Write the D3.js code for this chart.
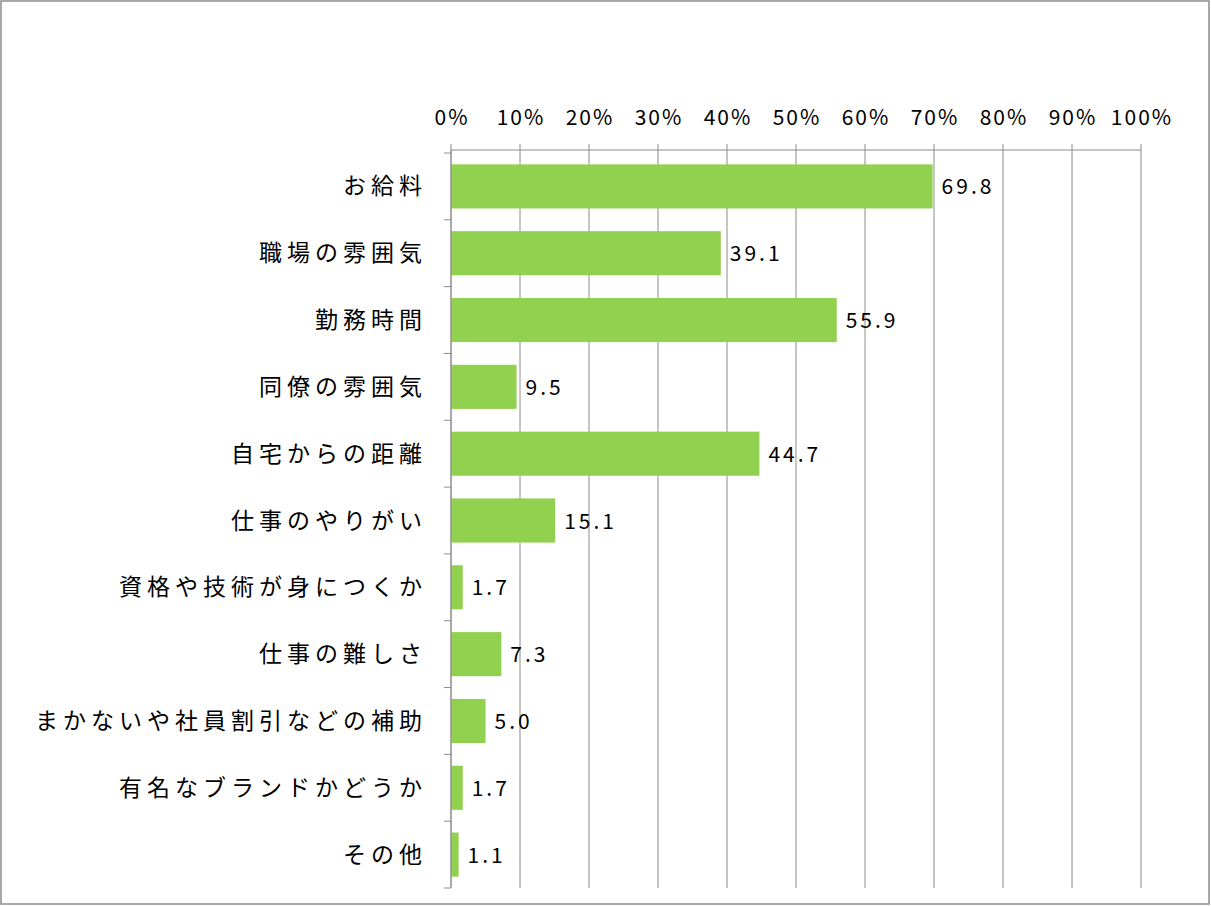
<!DOCTYPE html>
<html><head><meta charset="utf-8">
<script src="https://cdn.jsdelivr.net/npm/d3@7"></script>
<style>body{margin:0;background:#fff}text{font-family:"Noto Sans CJK JP","Noto Sans",sans-serif}</style>
</head><body><svg id="c" width="1211" height="906"></svg>
<script>
const categories=["お給料","職場の雰囲気","勤務時間","同僚の雰囲気","自宅からの距離","仕事のやりがい","資格や技術が身につくか","仕事の難しさ","まかないや社員割引などの補助","有名なブランドかどうか","その他"];
const values=[69.8,39.1,55.9,9.5,44.7,15.1,1.7,7.3,5.0,1.7,1.1];
const ticks=[0,10,20,30,40,50,60,70,80,90,100];
const svg=d3.select("#c");
svg.append("rect").attr("x",1).attr("y",1).attr("width",1208).attr("height",903).attr("fill","#fff").attr("stroke","#8c8c8c").attr("stroke-width",1.5);
const x=d3.scaleLinear().domain([0,100]).range([451,1141]);
const y=d3.scaleBand().domain(categories).range([153,888]).paddingInner(0.34).paddingOuter(0.17);
const yb=d3.scaleBand().domain(categories).range([153,888]);
const g=svg.append("g");
g.selectAll(".grid").data(ticks).join("line").attr("x1",d=>x(d)).attr("x2",d=>x(d)).attr("y1",150).attr("y2",888).attr("stroke","#8c8c8c").attr("stroke-width",1);
g.selectAll(".tl").data(ticks).join("text").attr("x",d=>x(d)+1).attr("y",125).attr("text-anchor","middle").attr("font-size",21).attr("letter-spacing",2).attr("fill","#000").text(d=>d+"%");
g.selectAll(".tk").data(ticks).join("line").attr("x1",d=>x(d)).attr("x2",d=>x(d)).attr("y1",144).attr("y2",150).attr("stroke","#8c8c8c");
g.append("line").attr("x1",451).attr("x2",1141).attr("y1",150).attr("y2",150).attr("stroke","#8c8c8c");
g.selectAll(".bar").data(values).join("rect").attr("x",x(0)).attr("y",(d,i)=>y(categories[i])).attr("width",d=>x(d)-x(0)).attr("height",y.bandwidth()).attr("fill","#92d050");
g.selectAll(".yt").data(categories.concat(["_end"])).join("line").attr("x1",444).attr("x2",451).attr("y1",(d,i)=>i<categories.length?yb(d):888).attr("y2",(d,i)=>i<categories.length?yb(d):888).attr("stroke","#8c8c8c");
g.append("line").attr("x1",451).attr("x2",451).attr("y1",150).attr("y2",888).attr("stroke","#8c8c8c");
g.selectAll(".cl").data(categories).join("text").attr("x",427).attr("y",d=>yb(d)+yb.bandwidth()/2+8).attr("text-anchor","end").attr("font-size",23).attr("letter-spacing",5).attr("fill","#000").text(d=>d);
g.selectAll(".vl").data(values).join("text").attr("x",d=>x(d)+9).attr("y",(d,i)=>yb(categories[i])+yb.bandwidth()/2+8).attr("font-size",21).attr("letter-spacing",3).attr("fill","#000").text(d=>d.toFixed(1));
</script></body></html>
